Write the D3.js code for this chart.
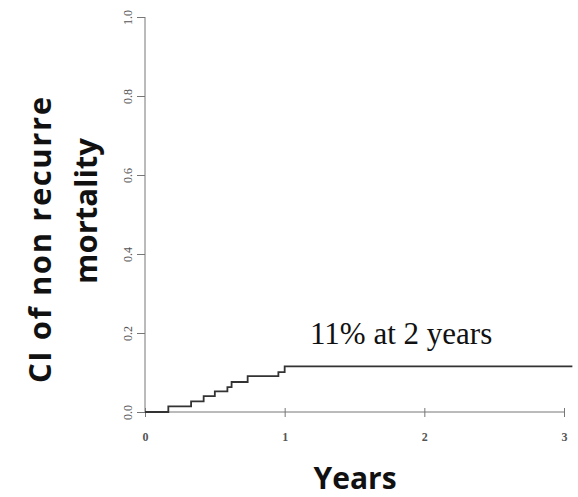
<!DOCTYPE html>
<html lang="en">
<head>
<meta charset="utf-8">
<script src="https://cdn.jsdelivr.net/npm/d3@7"></script>
<style>
  body { margin: 0; background: #fff; }
</style>
</head>
<body>
<script>
// step times (years) and cumulative incidence after each step
var stepTimes = [0, 0.167, 0.33, 0.42, 0.50, 0.59, 0.62, 0.735, 0.955, 1.0, 3.06];
var stepValues = [0, 0.0143, 0.027, 0.040, 0.052, 0.063, 0.076, 0.091, 0.101, 0.1156, 0.1156];
var xTicks = [0, 1, 2, 3];
var yTicks = [0, 0.2, 0.4, 0.6, 0.8, 1.0];

var w = 578, h = 497;
var svg = d3.select("body").append("svg").attr("width", w).attr("height", h);

var x = d3.scaleLinear().domain([0, 3]).range([145, 564]);
var y = d3.scaleLinear().domain([0, 1]).range([412, 17]);

// y axis
var yAxis = svg.append("g").attr("transform", "translate(145,0)")
  .call(d3.axisLeft(y).tickValues(yTicks).tickSize(8).tickFormat(d3.format(".1f")));
yAxis.select(".domain").attr("stroke", "#777").attr("d", "M0," + y(0) + "V" + y(1));
yAxis.selectAll(".tick line").attr("stroke", "#777");
yAxis.selectAll(".tick text")
  .attr("font-family", "Liberation Serif").attr("font-size", "12px").attr("fill", "#555")
  .attr("transform", "rotate(-90)").attr("text-anchor", "middle")
  .attr("x", 0).attr("y", -13).attr("dy", "0");

// x axis
var xAxis = svg.append("g").attr("transform", "translate(0," + y(0) + ")")
  .call(d3.axisBottom(x).tickValues(xTicks).tickSize(5).tickFormat(d3.format("d")));
xAxis.select(".domain").attr("stroke", "#777").attr("d", "M" + x(0) + ",0H" + x(3));
xAxis.selectAll(".tick line").attr("stroke", "#777").attr("y1", -4);
xAxis.selectAll(".tick text")
  .attr("font-family", "Liberation Serif").attr("font-size", "12px").attr("font-weight", "bold")
  .attr("fill", "#555").attr("y", 29).attr("dy", "0");

// step line
var line = d3.line().x(function(d) { return x(d[0]); }).y(function(d) { return y(d[1]); })
  .curve(d3.curveStepAfter);
svg.append("path")
  .datum(stepTimes.map(function(t, i) { return [t, stepValues[i]]; }))
  .attr("d", line).attr("fill", "none").attr("stroke", "#333").attr("stroke-width", 1.8);

// annotation
svg.append("text").attr("x", 310).attr("y", 344).text("11% at 2 years")
  .attr("font-family", "Liberation Serif").attr("font-size", "31px").attr("fill", "#111");

// axis titles
svg.append("text").attr("transform", "translate(51,240) rotate(-90)")
  .attr("text-anchor", "middle").text("CI of non recurre")
  .attr("font-family", "Open Sans").attr("font-weight", "bold").attr("font-size", "31px")
  .attr("textLength", 286).attr("fill", "#111");
svg.append("text").attr("transform", "translate(97,211) rotate(-90)")
  .attr("text-anchor", "middle").text("mortality")
  .attr("font-family", "Open Sans").attr("font-weight", "bold").attr("font-size", "31px")
  .attr("fill", "#111");
svg.append("text").attr("x", 355).attr("y", 489)
  .attr("text-anchor", "middle").text("Years")
  .attr("font-family", "Open Sans").attr("font-weight", "bold").attr("font-size", "30px")
  .attr("fill", "#111");
</script>
</body>
</html>
